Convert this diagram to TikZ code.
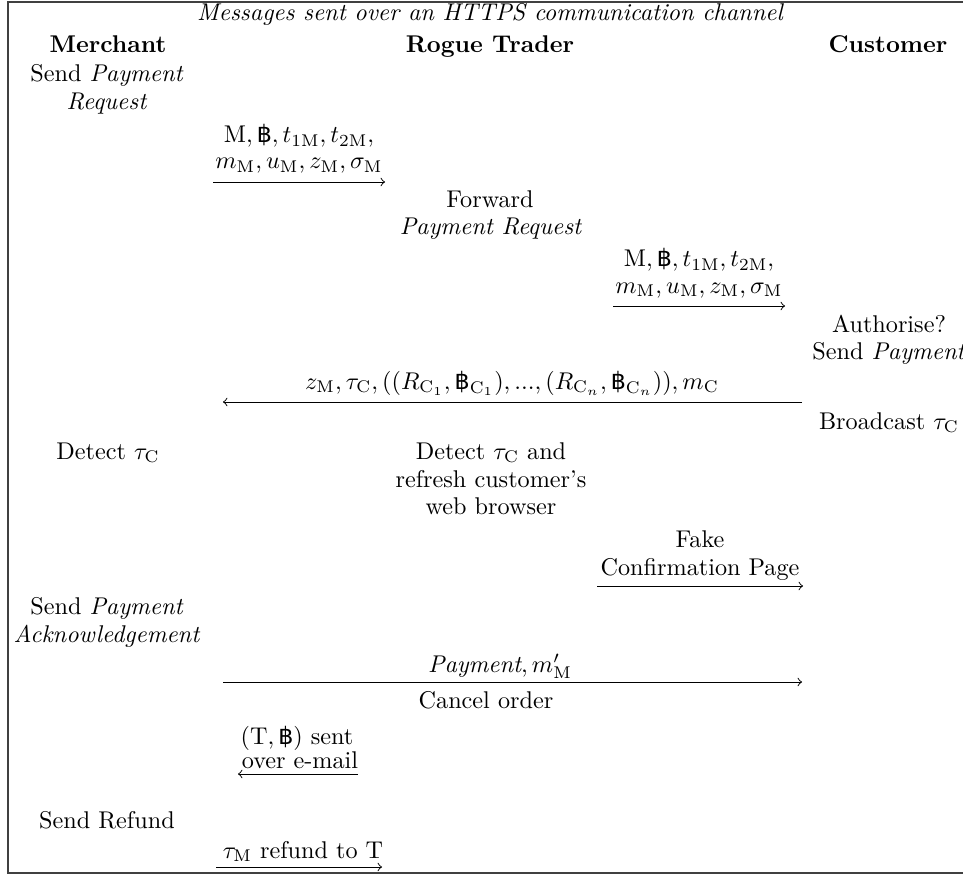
\documentclass[tikz,border=0pt]{standalone}
\usepackage{amsmath}
\usepackage{fontspec}
\newfontfamily\bahtfont[Scale=0.98]{DejaVu Sans}
\newcommand{\bt}{\text{\bahtfont ฿}}
\newcommand{\rmM}{\mathrm{M}}
\newcommand{\rmC}{\mathrm{C}}
\tikzset{
  txt/.style={anchor=base, inner sep=0pt},
  hdr/.style={txt, font=\bfseries},
  msg/.style={->, thin},
  frame/.style={line width=0.5pt, black!75}
}
\begin{document}
\begin{tikzpicture}[x=0.413pt, y=-0.413pt]
\clip (0,0) rectangle (963,876);
% frame
\coordinate (ftr) at (963,2);
\coordinate (ftl) at (8,2);
\coordinate (fbl) at (8,873);
\coordinate (fbr) at (963,873);
\draw[frame] (ftr) -- (ftl) -- (fbl) -- (fbr);

\node[txt] (title) at (490,21) {\itshape Messages sent over an HTTPS communication channel};
\node[hdr] (merch) at (108,53) {Merchant};
\node[hdr] (rogue) at (490,53) {Rogue Trader};
\node[hdr] (cust) at (888,53) {Customer};

% Merchant: send payment request
\node[txt] (spr1) at (107,82) {Send \textit{Payment}};
\node[txt] (spr2) at (107,110) {\textit{Request}};

% message 1
\node[txt] (m1a) at (299,143) {$\rmM,\bt,t_{1\rmM},t_{2\rmM},$};
\node[txt] (m1b) at (299,169) {$m_\rmM,u_\rmM,z_\rmM,\sigma_\rmM$};
\coordinate (a1s) at (213,182);
\coordinate (a1e) at (385,182);
\draw[msg] (a1s) -- (a1e);

% Trader: forward
\node[txt] (fw1) at (490,207) {Forward};
\node[txt] (fw2) at (491,235) {\textit{Payment Request}};

% message 2
\node[txt] (m2a) at (699,267) {$\rmM,\bt,t_{1\rmM},t_{2\rmM},$};
\node[txt] (m2b) at (699,293) {$m_\rmM,u_\rmM,z_\rmM,\sigma_\rmM$};
\coordinate (a2s) at (613,306);
\coordinate (a2e) at (785,306);
\draw[msg] (a2s) -- (a2e);

% Customer: authorise
\node[txt] (au1) at (889,333) {Authorise?};
\node[txt] (au2) at (889,360) {Send \textit{Payment}};

% message 3
\node[txt] (m3) at (512,389) {$z_\rmM,\tau_\rmC,((R_{\rmC_1},\bt_{\rmC_1}),...,(R_{\rmC_n},\bt_{\rmC_n})),m_\rmC$};
\coordinate (a3s) at (802,402);
\coordinate (a3e) at (223,402);
\draw[msg] (a3s) -- (a3e);

\node[txt] (bc) at (889,429) {Broadcast $\tau_\rmC$};
\node[txt] (dm) at (108,459) {Detect $\tau_\rmC$};
\node[txt] (dt1) at (491,459) {Detect $\tau_\rmC$ and};
\node[txt] (dt2) at (491,487) {refresh customer's};
\node[txt] (dt3) at (491,514) {web browser};

% fake confirmation
\node[txt] (fk1) at (700,547) {Fake};
\node[txt] (fk2) at (700,575) {Confirmation Page};
\coordinate (a4s) at (597,586);
\coordinate (a4e) at (803,586);
\draw[msg] (a4s) -- (a4e);

% Merchant: acknowledgement
\node[txt] (ak1) at (107,614) {Send \textit{Payment}};
\node[txt] (ak2) at (107,642) {\textit{Acknowledgement}};

\node[txt] (pm) at (500,672) {$\mathit{Payment},m'_\rmM$};
\coordinate (a5s) at (223,682);
\coordinate (a5e) at (802,682);
\draw[msg] (a5s) -- (a5e);

\node[txt] (co) at (486,708) {Cancel order};

% e-mail
\node[txt] (em1) at (297,744) {$(\mathrm{T},\bt)$ sent};
\node[txt] (em2) at (300,768) {over e-mail};
\coordinate (a6s) at (358,774);
\coordinate (a6e) at (238,774);
\draw[msg] (a6s) -- (a6e);

% refund
\node[txt] (sr) at (107,828) {Send Refund};
\node[txt] (rf) at (303,858) {$\tau_\rmM$ refund to T};
\coordinate (a7s) at (216,867);
\coordinate (a7e) at (382,867);
\draw[msg] (a7s) -- (a7e);
\end{tikzpicture}
\end{document}
